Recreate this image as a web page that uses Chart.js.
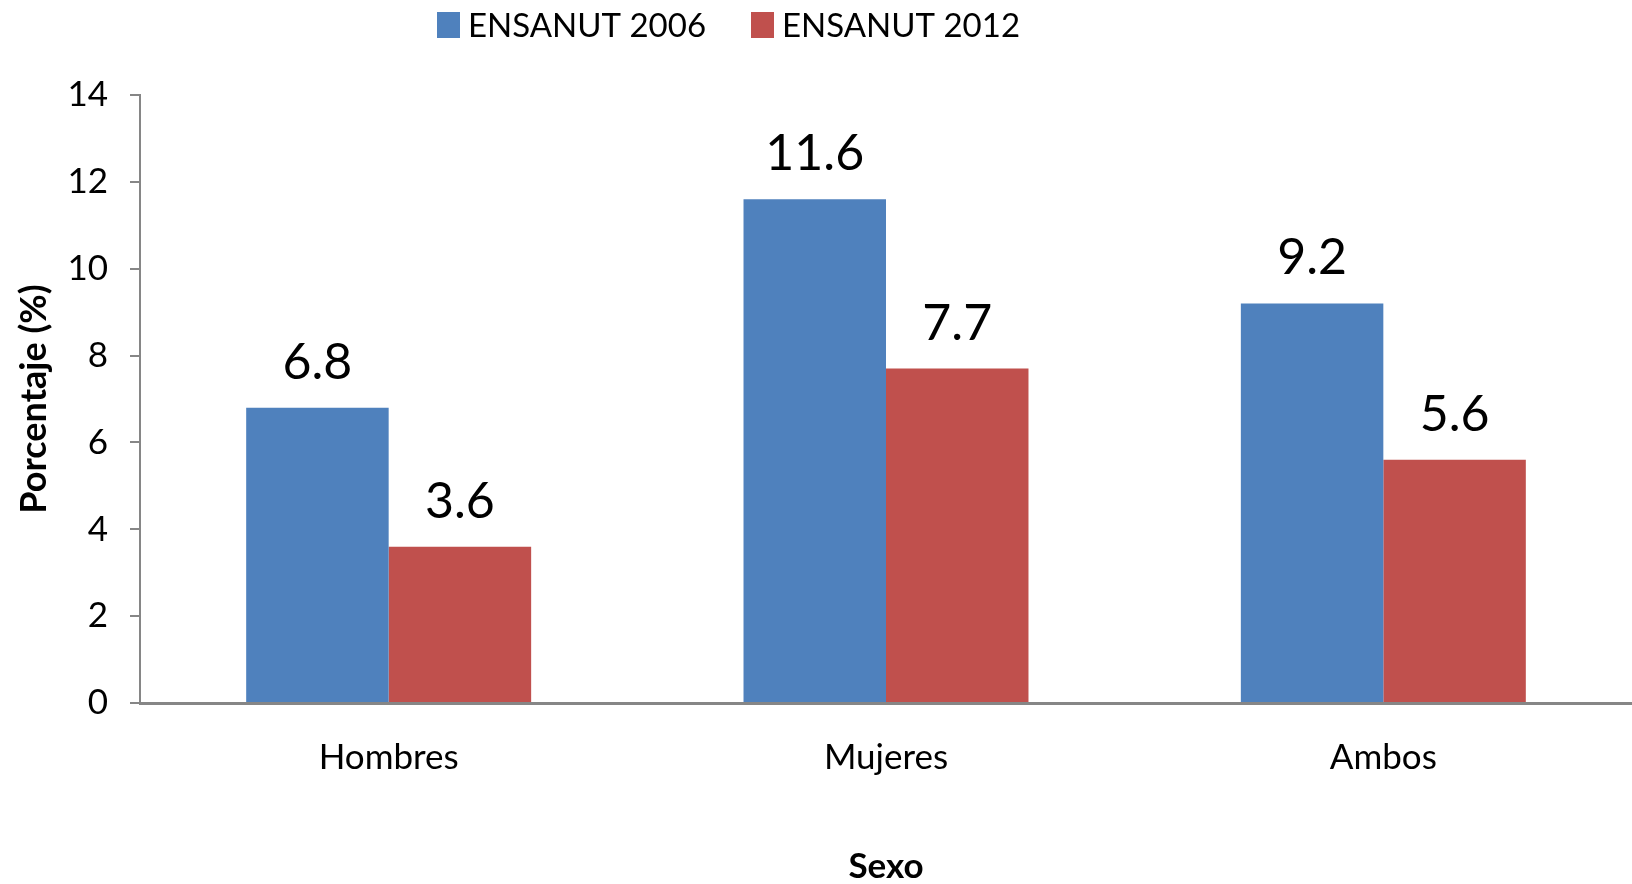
<!DOCTYPE HTML>
<html>
<head>
  <script src="https://cdn.jsdelivr.net/npm/chart.js"></script>
  <style>
    body { margin: 0; background: #fff; }
  </style>
  <script>
    // Chart data
    const categories = ["Hombres", "Mujeres", "Ambos"];
    const seriesNames = ["ENSANUT 2006", "ENSANUT 2012"];
    const values2006 = [6.8, 11.6, 9.2];
    const values2012 = [3.6, 7.7, 5.6];
    const yTicks = [0, 2, 4, 6, 8, 10, 12, 14];

    const axisGray = '#868686';
    const fontFamily = 'Lato, "Open Sans", sans-serif';

    // Draws the value above each bar
    const valueLabels = {
      id: 'valueLabels',
      afterDatasetsDraw(chart) {
        const ctx = chart.ctx;
        ctx.save();
        ctx.font = '50px ' + fontFamily;
        ctx.fillStyle = '#000';
        ctx.textAlign = 'center';
        ctx.textBaseline = 'alphabetic';
        chart.data.datasets.forEach((ds, i) => {
          chart.getDatasetMeta(i).data.forEach((bar, j) => {
            ctx.fillText(ds.data[j].toFixed(1), bar.x, bar.y - 29);
          });
        });
        ctx.restore();
      }
    };

    // Legend at the top, a bit left of centre like the original
    const topLegend = {
      id: 'topLegend',
      afterDraw(chart) {
        const ctx = chart.ctx;
        const startX = [437, 751];
        ctx.save();
        ctx.font = '33px ' + fontFamily;
        ctx.textBaseline = 'alphabetic';
        ctx.textAlign = 'left';
        chart.data.datasets.forEach((ds, i) => {
          ctx.fillStyle = ds.backgroundColor;
          ctx.fillRect(startX[i], 12, 23, 26);
          ctx.fillStyle = '#000';
          ctx.fillText(ds.label, startX[i] + 31, 37);
        });
        ctx.restore();
      }
    };

    window.onload = function() {
      const ctx = document.getElementById('myChart').getContext('2d');

      const data = {
        labels: categories,
        datasets: [{
          label: seriesNames[0],
          data: values2006,
          backgroundColor: '#4F81BD',
          categoryPercentage: 0.573,
          barPercentage: 1.0
        }, {
          label: seriesNames[1],
          data: values2012,
          backgroundColor: '#C0504D',
          categoryPercentage: 0.573,
          barPercentage: 1.0
        }]
      };

      const options = {
        responsive: false,
        animation: false,
        layout: { padding: { top: 95, right: 0, left: 0, bottom: 0 } },
        plugins: {
          tooltip: { enabled: false },
          legend: { display: false }
        },
        scales: {
          x: {
            grid: { display: false },
            border: { display: true, color: axisGray, width: 3 },
            ticks: {
              font: { family: fontFamily, size: 35 },
              color: '#000',
              padding: 26
            },
            title: {
              display: true,
              text: 'Sexo',
              font: { family: fontFamily, size: 35, weight: 'bold', lineHeight: 1.0 },
              color: '#000',
              padding: { top: 0, bottom: 0 }
            },
            afterFit: function(scale) { scale.height = 181; }
          },
          y: {
            min: 0,
            max: 14,
            afterBuildTicks: function(scale) {
              scale.ticks = yTicks.map(v => ({ value: v }));
            },
            grid: {
              display: true,
              drawOnChartArea: false,
              drawTicks: true,
              tickLength: 10,
              color: axisGray,
              lineWidth: 2
            },
            border: { display: true, color: axisGray, width: 2 },
            ticks: {
              font: { family: fontFamily, size: 35 },
              color: '#000',
              padding: 22
            },
            title: {
              display: true,
              text: 'Porcentaje (%)',
              font: { family: fontFamily, size: 36, weight: 'bold' },
              color: '#000',
              padding: { top: 13, bottom: 0 }
            },
            afterFit: function(scale) { scale.width = 140; }
          }
        }
      };

      new Chart(ctx, {
        type: 'bar',
        data: data,
        options: options,
        plugins: [valueLabels, topLegend]
      });
    };
  </script>
</head>
<body>
  <canvas id="myChart" width="1632" height="884"></canvas>
</body>
</html>
